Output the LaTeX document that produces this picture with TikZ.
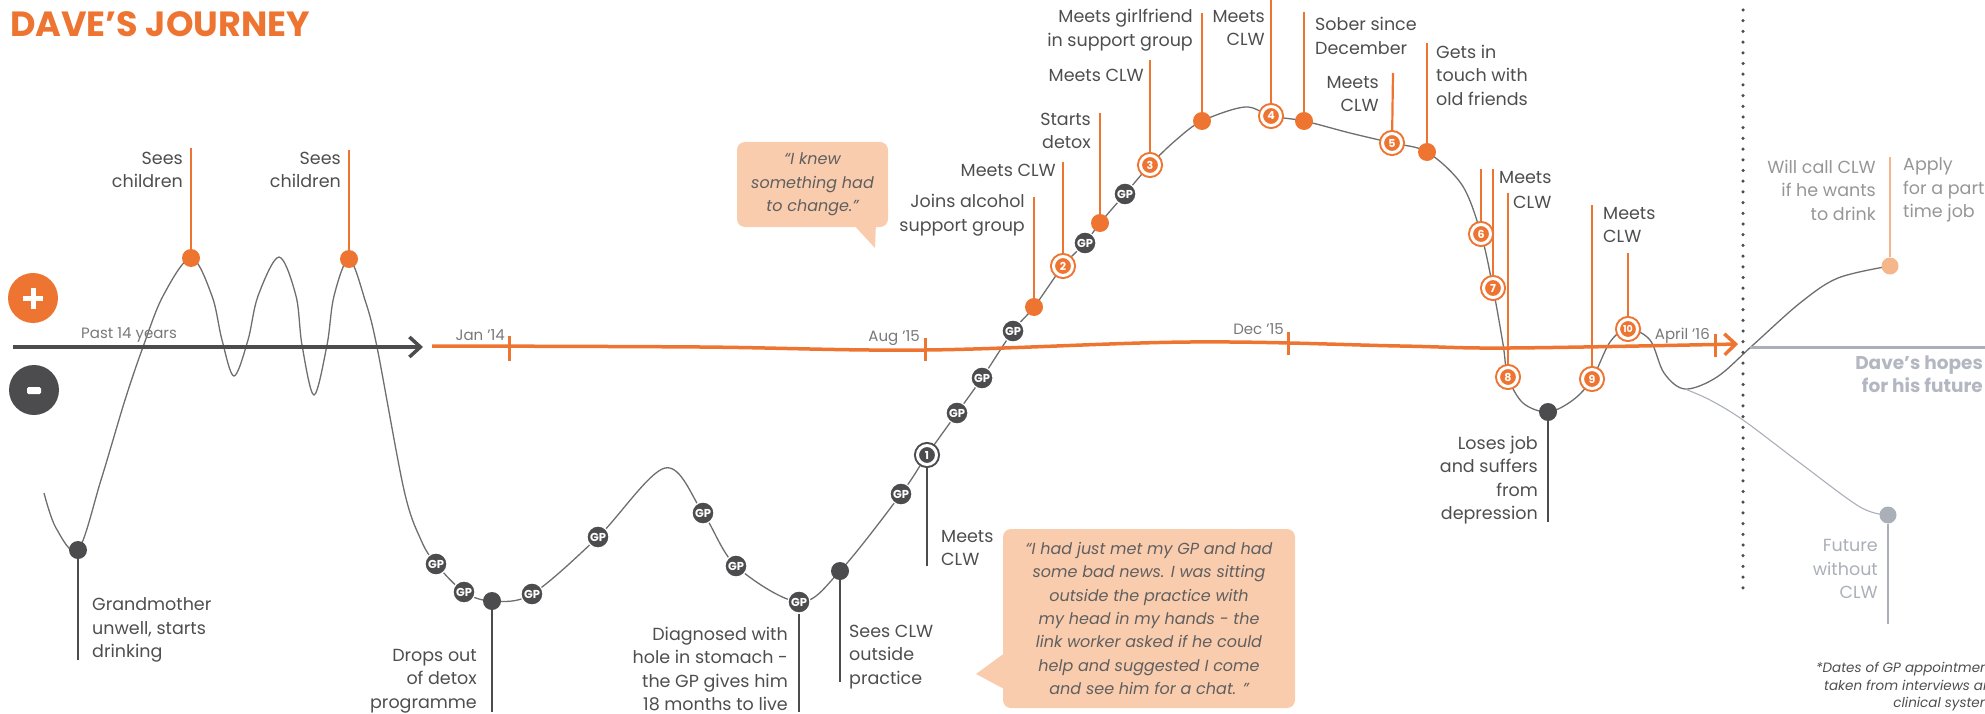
\documentclass[tikz,border=0pt]{standalone}
\usepackage{fontspec}
\setmainfont{Poppins}
\usetikzlibrary{arrows.meta}
\pgfdeclarelayer{bg}
\pgfsetlayers{bg,main}
\definecolor{org}{RGB}{238,116,49}
\definecolor{dk}{RGB}{76,76,78}
\definecolor{txt}{RGB}{78,78,80}
\definecolor{crv}{RGB}{110,110,110}
\definecolor{peach}{RGB}{250,204,174}
\definecolor{lorg}{RGB}{246,182,140}
\definecolor{lgray}{RGB}{150,150,152}
\definecolor{fgray}{RGB}{170,175,184}
\definecolor{hopes}{RGB}{178,183,193}
\definecolor{axl}{RGB}{120,120,122}
\definecolor{qtxt}{RGB}{95,95,95}
\begin{document}
\begin{tikzpicture}[x=1pt,y=-1pt,
  lbl/.style={font=\fontsize{17.5}{23.5}\selectfont, text=txt, inner sep=0pt},
  lblR/.style={lbl, align=right, anchor=east},
  lblL/.style={lbl, align=left, anchor=west},
  axlbl/.style={font=\fontsize{15}{15}\selectfont, text=axl, inner sep=0pt},
  curve/.style={draw=crv, line width=1.3pt},
  opin/.style={draw=org, line width=2.2pt},
  dpin/.style={draw=dk, line width=2.2pt},
  odot/.style={circle, fill=org, inner sep=0pt, minimum size=18pt},
  ddot/.style={circle, fill=dk, inner sep=0pt, minimum size=18pt},
  gp/.style={circle, fill=dk, draw=white, line width=1.2pt, inner sep=0pt, minimum size=22pt, text=white, font=\bfseries\fontsize{11.5}{11.5}\selectfont},
  onum/.style={circle, fill=org, draw=org, double=white, double distance=3pt, line width=2pt, inner sep=0pt, minimum size=19pt, text=white, font=\bfseries\fontsize{11}{11}\selectfont},
  dnum/.style={onum, fill=dk, draw=dk},
  bubble/.style={fill=peach, rounded corners=8pt, inner sep=0pt, align=center, text=qtxt, font=\itshape\fontsize{16}{23.4}\selectfont},
  tickmark/.style={draw=org, line width=3pt},
]
\useasboundingbox (0,0) rectangle (1985,714);

% ---------- title and +/- ----------
\node[anchor=base west, inner sep=0pt, text=org, font=\bfseries\fontsize{35}{35}\selectfont] (title) at (10,37) {DAVE’S JOURNEY};
\node[circle, fill=org, minimum size=50pt, inner sep=0pt] (plus) at (33,298) {};
\draw[white, line width=5pt] (23,298.5) -- (43,298.5) (33,288) -- (33,309);
\node[circle, fill=dk, minimum size=50pt, inner sep=0pt] (minus) at (34,390) {};
\fill[white, rounded corners=1.5pt] (27,387) rectangle (41,394);

% ---------- axes ----------
\coordinate (pa0) at (13,347);
\coordinate (pa1) at (423,347);
\draw[dk, line width=3.5pt, -{Straight Barb[length=11pt,width=20pt]}] (pa0) -- (pa1);
\node[axlbl, anchor=base west] (past) at (81,338) {Past 14 years};

\coordinate (oa0) at (432,346);
\coordinate (oa1) at (700,347);
\coordinate (oa2) at (925,350);
\coordinate (oa3) at (1190,342);
\coordinate (oa4) at (1400,346);
\coordinate (oa5) at (1510,348);
\coordinate (oa6) at (1738,344);
\draw[org, line width=3.5pt, -{Straight Barb[length=11pt,width=21pt]}] plot[smooth, tension=0.6] coordinates {(oa0) (oa1) (oa2) (oa3) (oa4) (oa5) (oa6)};
\draw[tickmark] (509,336) -- (509,361);
\draw[tickmark] (925,338) -- (925,361);
\draw[tickmark] (1288,332) -- (1288,355);
\draw[tickmark] (1715,334) -- (1715,357);
\node[axlbl, anchor=base east] (jan) at (505,340) {Jan ’14};
\node[axlbl, anchor=base east] (aug) at (920,341) {Aug ’15};
\node[axlbl, anchor=base east] (dec) at (1284,334) {Dec ’15};
\node[axlbl, anchor=base east] (apr) at (1710,339) {April ’16};

% future axis
\coordinate (hopesL) at (1750,347);
\coordinate (hopesR) at (1990,347);
\draw[fgray, line width=3pt] (hopesL) -- (hopesR);
\coordinate (dotT) at (1743,10);
\coordinate (dotB) at (1743,595);
\draw[dk, line width=3.5pt, line cap=round, dash pattern=on 0pt off 10.7pt] (dotT) -- (dotB);

% ---------- curve points ----------
\coordinate (k0) at (44,493);
\coordinate (k1) at (56,528);
\node[ddot] (grand) at (78,550) {};
\coordinate (k2) at (101,480);
\coordinate (k2b) at (125,400);
\coordinate (k3) at (143,347);
\coordinate (k4) at (163,296);
\node[odot] (sees1) at (191,258) {};
\coordinate (k5) at (212,296);
\coordinate (k6) at (222,340);
\coordinate (k7) at (234,376);
\coordinate (k8) at (248,340);
\coordinate (k9) at (258,296);
\coordinate (k10) at (279,257);
\coordinate (k11) at (296,296);
\coordinate (k12) at (302,345);
\coordinate (k13) at (314,395);
\coordinate (k14) at (327,345);
\coordinate (k15) at (334,296);
\node[odot] (sees2) at (349,259) {};
\coordinate (k16) at (365,300);
\coordinate (k17) at (377,347);
\coordinate (k18) at (404,490);
\coordinate (k19) at (421,540);
\node[gp] (gp1) at (436,564) {GP};
\node[gp] (gp2) at (464,592) {GP};
\node[ddot] (drops) at (492,601) {};
\node[gp] (gp3) at (532,594) {GP};
\node[gp] (gp4) at (598,537) {GP};
\coordinate (k20) at (665,468);
\node[gp] (gp5) at (703,513) {GP};
\node[gp] (gp6) at (736,566) {GP};
\node[gp] (gp7) at (799,602) {GP};
\node[ddot] (seesclw) at (840,571) {};
\node[gp] (gp8) at (901,494) {GP};
\node[dnum] (c1) at (927,455) {1};
\node[gp] (gp9) at (957,413) {GP};
\node[gp] (gp10) at (982,378) {GP};
\node[gp] (gp11) at (1013,331) {GP};
\node[odot] (joins) at (1034,307) {};
\node[onum] (c2) at (1063,266) {2};
\node[gp] (gp12) at (1085,243) {GP};
\node[odot] (detox) at (1100,223) {};
\node[gp] (gp13) at (1125,194) {GP};
\node[onum] (c3) at (1150,165) {3};
\coordinate (k21) at (1176,140);
\node[odot] (girl) at (1202,121) {};
\coordinate (k22) at (1245,107);
\node[onum] (c4) at (1271,116) {4};
\node[odot] (sober) at (1304,121) {};
\coordinate (k23) at (1350,133);
\node[onum] (c5) at (1392,143) {5};
\node[odot] (gets) at (1427,152) {};
\coordinate (k24) at (1462,185);
\node[onum] (c6) at (1481,234) {6};
\node[onum] (c7) at (1493,288) {7};
\coordinate (k25) at (1503,344);
\node[onum] (c8) at (1508,377) {8};
\coordinate (k26) at (1523,403);
\node[ddot] (loses) at (1548,412) {};
\coordinate (k27) at (1573,400);
\node[onum] (c9) at (1592,379) {9};
\coordinate (k28) at (1610,342);
\node[onum, font=\bfseries\fontsize{9.5}{9.5}\selectfont] (c10) at (1628,329) {10};
\coordinate (k29) at (1650,340);
\coordinate (k30) at (1664,373);
\coordinate (k31) at (1685,389);
\coordinate (k32) at (1717,377);
\coordinate (k33) at (1753,345);
\coordinate (k34) at (1800,303);
\coordinate (k35) at (1838,278);
\node[circle, fill=lorg, inner sep=0pt, minimum size=17pt] (apply) at (1890,266) {};
\coordinate (l1) at (1710,400);
\coordinate (l2) at (1743,420);
\coordinate (l3) at (1800,463);
\coordinate (l4) at (1860,507);
\node[circle, fill=fgray, inner sep=0pt, minimum size=17pt] (future) at (1888,515) {};

% ---------- pin tops ----------
\coordinate (t-sees1) at (191,148);
\coordinate (t-sees2) at (349,150);
\coordinate (t-grand) at (78,660);
\coordinate (t-drops) at (492,712);
\coordinate (t-diag) at (799,712);
\coordinate (t-seesclw) at (840,682);
\coordinate (t-c1) at (927,566);
\coordinate (t-joins) at (1034,197);
\coordinate (t-c2) at (1063,162);
\coordinate (t-detox) at (1100,113);
\coordinate (t-c3) at (1150,60);
\coordinate (t-girl) at (1202,13);
\coordinate (t-c4) at (1271,0);
\coordinate (t-sober) at (1304,12);
\coordinate (t-c5) at (1393,73);
\coordinate (t-gets) at (1427,43);
\coordinate (t-c6) at (1481,169);
\coordinate (t-c7) at (1493,169);
\coordinate (t-c8) at (1508,193);
\coordinate (t-c9) at (1592,205);
\coordinate (t-c10) at (1628,253);
\coordinate (t-loses) at (1548,522);
\coordinate (t-apply) at (1890,157);
\coordinate (t-future) at (1888,624);

\begin{pgfonlayer}{bg}
\draw[curve] plot[smooth, tension=0.55] coordinates {(k0) (k1) (grand.center) (k2) (k2b) (k3) (k4) (sees1.center) (k5) (k6) (k7) (k8) (k9) (k10) (k11) (k12) (k13) (k14) (k15) (sees2.center) (k16) (k17) (k18) (k19) (gp1.center) (gp2.center) (drops.center) (gp3.center) (gp4.center) (k20) (gp5.center) (gp6.center) (gp7.center) (seesclw.center) (gp8.center) (c1.center) (gp9.center) (gp10.center) (gp11.center) (joins.center) (c2.center) (gp12.center) (detox.center) (gp13.center) (c3.center) (k21) (girl.center) (k22) (c4.center) (sober.center) (k23) (c5.center) (gets.center) (k24) (c6.center) (c7.center) (k25) (c8.center) (k26) (loses.center) (k27) (c9.center) (k28) (c10.center) (k29) (k30) (k31) (k32) (k33) (k34) (k35) (apply.center)};
\draw[draw=fgray, line width=1.1pt] plot[smooth, tension=0.55] coordinates {(k31) (l1) (l2) (l3) (l4) (future.center)};
% orange pins
\draw[opin] (t-sees1) -- (sees1);
\draw[opin] (t-sees2) -- (sees2);
\draw[opin] (t-joins) -- (joins);
\draw[opin] (t-c2) -- (c2);
\draw[opin] (t-detox) -- (detox);
\draw[opin] (t-c3) -- (c3);
\draw[opin] (t-girl) -- (girl);
\draw[opin] (t-c4) -- (c4);
\draw[opin] (t-sober) -- (sober);
\draw[opin] (t-c5) -- (c5);
\draw[opin] (t-gets) -- (gets);
\draw[opin] (t-c6) -- (c6);
\draw[opin] (t-c7) -- (c7);
\draw[opin] (t-c8) -- (c8);
\draw[opin] (t-c9) -- (c9);
\draw[opin] (t-c10) -- (c10);
\draw[draw=lorg, line width=2.2pt] (t-apply) -- (apply);
% dark pins
\draw[dpin] (grand) -- (t-grand);
\draw[dpin] (drops) -- (t-drops);
\draw[dpin] (gp7) -- (t-diag);
\draw[dpin] (seesclw) -- (t-seesclw);
\draw[dpin] (c1) -- (t-c1);
\draw[dpin] (loses) -- (t-loses);
\draw[draw=fgray, line width=2.2pt] (future) -- (t-future);
\end{pgfonlayer}

% ---------- labels ----------
\node[lblR] (l-sees1) at (183,170) {Sees\\children};
\node[lblR] (l-sees2) at (341,170) {Sees\\children};
\node[lblL] (l-grand) at (92,630) {Grandmother\\unwell, starts\\drinking};
\node[lblR] (l-drops) at (477,681) {Drops out\\of detox\\programme};
\node[lblR] (l-diag) at (788,669) {Diagnosed with\\hole in stomach -\\the GP gives him\\18 months to live};
\node[lblL] (l-seesclw) at (849,657) {Sees CLW\\outside\\practice};
\node[lblL] (l-c1) at (941,548) {Meets\\CLW};
\node[lblR] (l-joins) at (1025,215) {Joins alcohol\\support group};
\node[lblR] (l-c2) at (1056,170) {Meets CLW};
\node[lblR] (l-detox) at (1091,131) {Starts\\detox};
\node[lblR] (l-c3) at (1144,75) {Meets CLW};
\node[lblR] (l-girl) at (1193,30) {Meets girlfriend\\in support group};
\node[lblR] (l-c4) at (1265,28) {Meets\\CLW};
\node[lblL] (l-sober) at (1315,36) {Sober since\\December};
\node[lblR] (l-c5) at (1379,94) {Meets\\CLW};
\node[lblL] (l-gets) at (1436,75) {Gets in\\touch with\\old friends};
\node[lblL] (l-c67a) at (1499,178) {Meets};
\node[lblL] (l-c67b) at (1513,202) {CLW};
\node[lblR] (l-loses) at (1538,480) {Loses job\\and suffers\\from\\depression};
\node[lblL] (l-c9) at (1603,225) {Meets\\CLW};
\node[lblR, text=lgray] (l-call) at (1876,190) {Will call CLW\\if he wants\\to drink};
\node[lblL, text=lgray] (l-apply) at (1903,190) {Apply\\for a part\\time job};
\node[lblR, text=fgray] (l-future) at (1878,569) {Future\\without\\CLW};
\node[lblR, font=\bfseries\fontsize{18.5}{22.5}\selectfont, text=hopes] (l-hopes) at (1983,374) {Dave’s hopes\\for his future};
\node[anchor=north east, align=right, inner sep=0pt, text=txt, font=\itshape\fontsize{13.5}{17.5}\selectfont] (note) at (2001,662) {*Dates of GP appointments\\taken from interviews and\\clinical systems};

% ---------- quote bubbles ----------
\node[bubble, minimum width=151pt, minimum height=85pt] (q1) at (812.5,184.5) {“I knew\\something had\\to change.”};
\fill[peach] (851,222) -- (876,222) -- (875,248) -- cycle;
\node[bubble, minimum width=292pt, minimum height=179pt] (q2) at (1149,618.5) {“I had just met my GP and had\\some bad news. I was sitting\\outside the practice with\\my head in my hands - the\\link worker asked if he could\\help and suggested I come\\and see him for a chat. ”};
\fill[peach] (1006,652) -- (976,674) -- (1006,690) -- cycle;
\end{tikzpicture}
\end{document}
